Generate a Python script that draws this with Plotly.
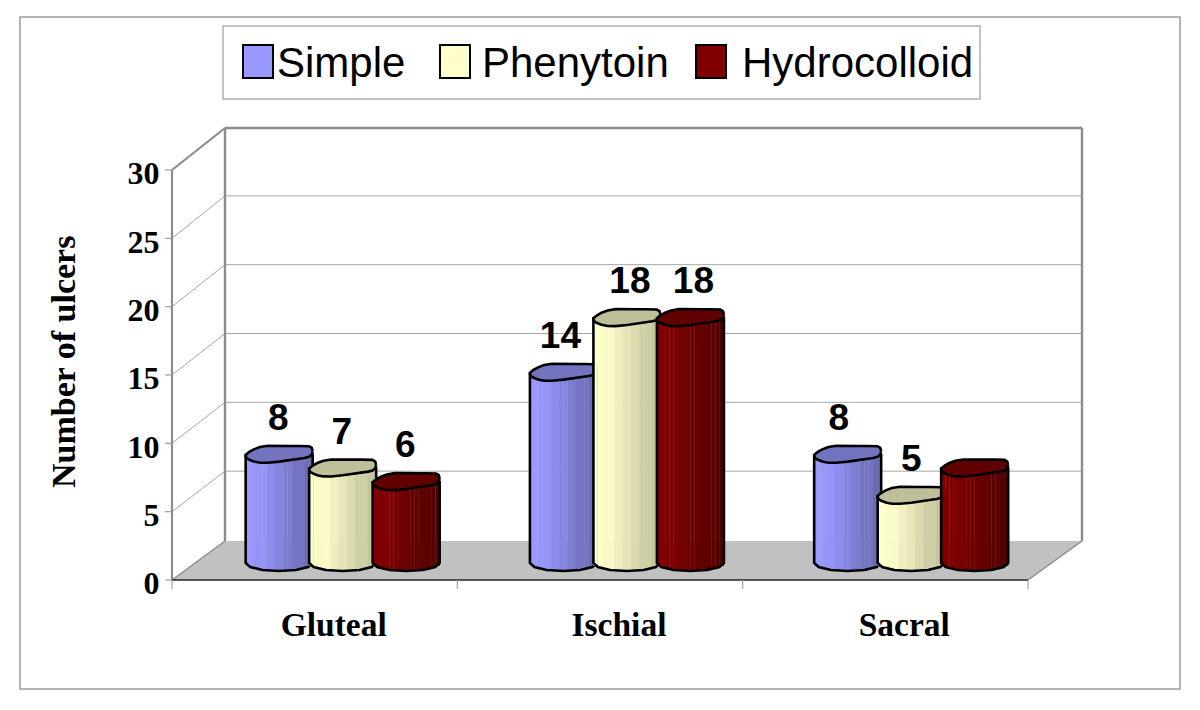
import numpy as np
import plotly.graph_objects as go

categories = ["Gluteal", "Ischial", "Sacral"]
series_names = ["Simple", "Phenytoin", "Hydrocolloid"]
simple = [8, 14, 8]
phenytoin = [7, 18, 5]
hydrocolloid = [6, 18, 7]
label_simple = ["8", "14", "8"]
label_phenytoin = ["7", "18", "5"]
label_hydrocolloid = ["6", "18", ""]
y_ticks = [0, 5, 10, 15, 20, 25, 30]

series_values = [simple, phenytoin, hydrocolloid]
series_labels = [label_simple, label_phenytoin, label_hydrocolloid]
label_dx = [[-1, -3, -9], [-1, 3, 0], [-1, 3, 0]]
base_rgb = [(153, 153, 255), (255, 255, 204), (128, 0, 0)]
dark_end = [0.68, 0.75, 0.62]

W, H = 1200, 710
L, R, T, B = 172, 1090, 120, 580      # plot area in pixels
PX_X = 285.33                          # px per category
PX_Y = 13.667                          # px per y unit
xr = [-0.5, -0.5 + (R - L) / PX_X]
yr = [0, (B - T) / PX_Y]


def PXP(px):
    return (px - L) / (R - L)


def PYP(py):
    return (B - py) / (B - T)


GROUP_OFF = 28 / PX_X
GROUP_PITCH = 284.25 / PX_X
PITCH = 63.5 / PX_X
BAR_W = 67 / PX_X
BASE0 = 17 / PX_Y
CAP_B = 8 / PX_Y
BOT_B = 8 / PX_Y
SKEW = 2.5 / PX_Y
WOB = 0.8 / PX_Y
N = 16
BANDS = 7
LBL_OFF = 33 / PX_Y

fig = go.Figure()


def rgb(c, f=1.0):
    return "rgb(%d,%d,%d)" % tuple(int(round(v * f)) for v in c)


for s, vals in enumerate(series_values):
    xa = "x" if s == 0 else f"x{s + 1}"
    ya = "y" if s == 0 else f"y{s + 1}"
    centers = np.arange(len(vals)) * GROUP_PITCH + GROUP_OFF + (s - 1) * PITCH
    a = BAR_W / 2
    v = np.array(vals, float)
    for k in range(N):
        u = (k + 0.5) / N
        ub = (np.floor(u * BANDS) + 0.5) / BANDS
        f = 1.0 if ub < 0.15 else 1 - (1 - dark_end[s]) * (ub - 0.15) / 0.85
        xs = centers - a + u * BAR_W
        bot = BASE0 - BOT_B * np.sqrt(max(0, 1 - (2 * u - 1) ** 2))
        fig.add_trace(go.Bar(
            x=xs, y=v + BASE0 - bot, base=[bot] * len(v), width=BAR_W / N * 1.08,
            marker=dict(color=rgb(base_rgb[s], f), line_width=0),
            showlegend=False, hoverinfo="skip", xaxis=xa, yaxis=ya))
    for i, c in enumerate(centers):
        top = v[i] + BASE0
        # silhouette
        t = np.linspace(np.pi, 2 * np.pi, 7)
        bx = c + a * np.cos(t)
        by = BASE0 + BOT_B * np.sin(t)
        ox = np.r_[c - a, bx, c + a]
        oy = np.r_[top, by, top]
        fig.add_trace(go.Scatter(
            x=ox, y=oy, mode="lines", line=dict(color="black", width=2.6),
            showlegend=False, hoverinfo="skip", xaxis=xa, yaxis=ya))
        # cap
        t = np.linspace(0, 2 * np.pi, 25)
        cx = c + a * np.sign(np.cos(t)) * np.abs(np.cos(t)) ** 0.8
        cy = (top + CAP_B * np.sign(np.sin(t)) * np.abs(np.sin(t)) ** 0.8
              + SKEW * np.cos(t) + WOB * np.sin(4 * t))
        fig.add_trace(go.Scatter(
            x=cx, y=cy, mode="lines", fill="toself",
            fillcolor=rgb(base_rgb[s], 0.75),
            line=dict(color="black", width=2.6),
            showlegend=False, hoverinfo="skip", xaxis=xa, yaxis=ya))
    fig.add_trace(go.Scatter(
        x=centers + np.array(label_dx[s]) / PX_X, y=v + BASE0 + LBL_OFF, mode="text",
        text=series_labels[s], textposition="middle center",
        textfont=dict(family="Liberation Sans", size=37, color="black", weight="bold"),
        showlegend=False, hoverinfo="skip", xaxis=xa, yaxis=ya))

# pseudo-3D frame geometry
FL, FR = L, 1028
BL, BR = 225, 1082
BY0, BY30 = 541, 128


def back_py(v):
    return BY0 + (BY30 - BY0) * v / 30


def front_py(v):
    return B - v * PX_Y


GRID = "#a6a6a6"
WALL = "#8c8c8c"
shapes = []


def line(x0, y0, x1, y1, color, width):
    shapes.append(dict(type="line", xref="paper", yref="paper",
                       x0=PXP(x0), y0=PYP(y0), x1=PXP(x1), y1=PYP(y1),
                       line=dict(color=color, width=width), layer="below"))


def rect(x0, y0, x1, y1, fill, color, width):
    shapes.append(dict(type="rect", xref="paper", yref="paper",
                       x0=PXP(x0), y0=PYP(y0), x1=PXP(x1), y1=PYP(y1),
                       fillcolor=fill, line=dict(color=color, width=width), layer="below"))


rect(20, 17, 1180, 689, "white", "#9a9a9a", 1.5)
rect(223, 26, 980, 99, "white", "#b0b0b0", 1.5)
# floor
shapes.append(dict(type="path", xref="paper", yref="paper", layer="below",
                   path="M %f %f L %f %f L %f %f L %f %f Z" % (
                       PXP(FL), PYP(B), PXP(BL), PYP(BY0), PXP(BR), PYP(BY0), PXP(FR), PYP(B)),
                   fillcolor="#c0c1c0", line=dict(width=0)))
for v in y_ticks[1:-1]:
    line(BL, back_py(v) - 1, BR, back_py(v) - 1, GRID, 1)
    line(FL, front_py(v), BL, back_py(v) - 1, GRID, 1)
line(FL, front_py(30), BL, BY30, WALL, 2.2)
line(BL, BY30, BR, BY30, WALL, 2.4)
line(BL, BY30, BL, BY0, WALL, 2.4)
line(BR, BY30, BR, BY0, WALL, 2.4)
line(FL, front_py(30), FL, B, WALL, 2.2)
line(FL, B, BL, BY0, WALL, 1.5)
line(FR, B, BR, BY0, WALL, 1.5)
line(FL, B, FR, B, "#222222", 1.6)
for i in range(len(categories) + 1):
    px = FL + i * (FR - FL) / len(categories)
    line(px, B, px, B + 9, "#a0a0a0", 1.2)
for v in y_ticks:
    line(FL - 7, front_py(v), FL, front_py(v), "#a0a0a0", 1.2)

# legend
annotations = []
swatch_x = [243, 440, 696]
text_x = [275, 480, 740]
for s, name in enumerate(series_names):
    shapes.append(dict(type="rect", xref="paper", yref="paper",
                       x0=PXP(swatch_x[s]), x1=PXP(swatch_x[s] + 30),
                       y0=PYP(45), y1=PYP(78),
                       fillcolor=rgb(base_rgb[s]), line=dict(color="black", width=2)))
    annotations.append(dict(xref="paper", yref="paper", x=PXP(text_x[s]), y=PYP(62),
                            text=name, showarrow=False, xanchor="left", yanchor="middle",
                            font=dict(family="Liberation Sans", size=42, color="black")))
annotations.append(dict(xref="paper", yref="paper", x=PXP(63), y=PYP(362),
                        text="<b>Number of ulcers</b>", textangle=-90, showarrow=False,
                        xanchor="center", yanchor="middle",
                        font=dict(family="Liberation Serif", size=34, color="black")))

layout = dict(
    width=W, height=H, margin=dict(l=L, r=W - R, t=T, b=H - B, pad=0),
    paper_bgcolor="white", plot_bgcolor="rgba(0,0,0,0)",
    barmode="overlay", showlegend=False, shapes=shapes, annotations=annotations,
    xaxis=dict(range=xr, tickmode="array", tickvals=list(range(len(categories))),
               ticktext=categories, showgrid=False, zeroline=False, showline=False,
               ticks="outside", ticklen=15, tickcolor="rgba(0,0,0,0)", ticklabelshift=19,
               tickfont=dict(family="Liberation Serif", size=33.5, color="black", weight="bold")),
    yaxis=dict(range=yr, tickmode="array", tickvals=y_ticks, showgrid=False, zeroline=False,
               showline=False, ticks="outside", ticklen=5, tickcolor="rgba(0,0,0,0)",
               ticklabelshift=3,
               tickfont=dict(family="Liberation Serif", size=32, color="black", weight="bold")),
)
for s in (2, 3):
    layout[f"xaxis{s}"] = dict(range=xr, overlaying="x", visible=False)
    layout[f"yaxis{s}"] = dict(range=yr, overlaying="y", visible=False)
fig.update_layout(**layout)
fig.write_html("out.html", config={"displayModeBar": False},
               post_script="document.body.style.margin='0';")
